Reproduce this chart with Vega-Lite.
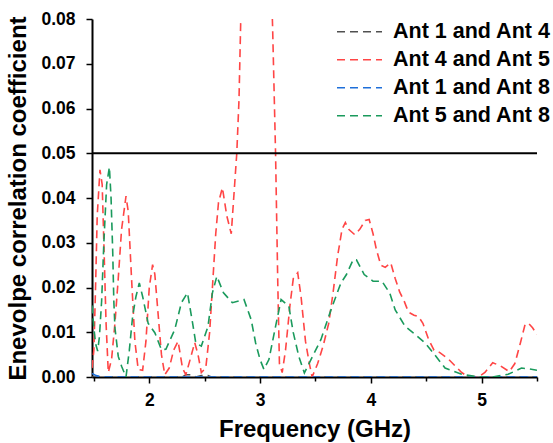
{
  "$schema": "https://vega.github.io/schema/vega-lite/v6.json",
  "width": 445,
  "height": 358,
  "autosize": {"type": "none"},
  "padding": {"left": 92, "top": 19, "right": 16, "bottom": 66},
  "background": "white",
  "config": {
    "view": {"stroke": null},
    "font": "Liberation Sans",
    "axis": {
      "grid": false,
      "domainColor": "black",
      "domainWidth": 2,
      "tickColor": "black",
      "tickWidth": 1.5,
      "labelFont": "Liberation Sans",
      "labelFontWeight": "bold",
      "labelFontSize": 17.5,
      "labelColor": "black",
      "titleFont": "Liberation Sans",
      "titleFontWeight": "bold",
      "titleFontSize": 24,
      "titleColor": "black"
    }
  },
  "datasets": {
    "curves": [
      {"f": 1.483, "v": 0, "s": "Ant 1 and Ant 4"},
      {"f": 2.0, "v": 0, "s": "Ant 1 and Ant 4"},
      {"f": 2.30, "v": 0, "s": "Ant 1 and Ant 4"},
      {"f": 2.33, "v": 0.0005, "s": "Ant 1 and Ant 4"},
      {"f": 2.38, "v": 0.0005, "s": "Ant 1 and Ant 4"},
      {"f": 2.42, "v": 0, "s": "Ant 1 and Ant 4"},
      {"f": 2.47, "v": 0.0003, "s": "Ant 1 and Ant 4"},
      {"f": 2.53, "v": 0.0003, "s": "Ant 1 and Ant 4"},
      {"f": 2.56, "v": 0, "s": "Ant 1 and Ant 4"},
      {"f": 5.5, "v": 0, "s": "Ant 1 and Ant 4"},

      {"f": 1.483, "v": 0.002, "s": "Ant 4 and Ant 5"},
      {"f": 1.50, "v": 0.006, "s": "Ant 4 and Ant 5"},
      {"f": 1.515, "v": 0.02, "s": "Ant 4 and Ant 5"},
      {"f": 1.53, "v": 0.036, "s": "Ant 4 and Ant 5"},
      {"f": 1.555, "v": 0.0463, "s": "Ant 4 and Ant 5"},
      {"f": 1.575, "v": 0.043, "s": "Ant 4 and Ant 5"},
      {"f": 1.59, "v": 0.03, "s": "Ant 4 and Ant 5"},
      {"f": 1.61, "v": 0.012, "s": "Ant 4 and Ant 5"},
      {"f": 1.63, "v": 0.001, "s": "Ant 4 and Ant 5"},
      {"f": 1.66, "v": 0.004, "s": "Ant 4 and Ant 5"},
      {"f": 1.69, "v": 0.012, "s": "Ant 4 and Ant 5"},
      {"f": 1.72, "v": 0.022, "s": "Ant 4 and Ant 5"},
      {"f": 1.75, "v": 0.033, "s": "Ant 4 and Ant 5"},
      {"f": 1.79, "v": 0.0404, "s": "Ant 4 and Ant 5"},
      {"f": 1.81, "v": 0.037, "s": "Ant 4 and Ant 5"},
      {"f": 1.84, "v": 0.022, "s": "Ant 4 and Ant 5"},
      {"f": 1.87, "v": 0.008, "s": "Ant 4 and Ant 5"},
      {"f": 1.90, "v": 0.0017, "s": "Ant 4 and Ant 5"},
      {"f": 1.94, "v": 0.0015, "s": "Ant 4 and Ant 5"},
      {"f": 1.97, "v": 0.008, "s": "Ant 4 and Ant 5"},
      {"f": 2.00, "v": 0.02, "s": "Ant 4 and Ant 5"},
      {"f": 2.03, "v": 0.0251, "s": "Ant 4 and Ant 5"},
      {"f": 2.05, "v": 0.023, "s": "Ant 4 and Ant 5"},
      {"f": 2.08, "v": 0.014, "s": "Ant 4 and Ant 5"},
      {"f": 2.11, "v": 0.005, "s": "Ant 4 and Ant 5"},
      {"f": 2.14, "v": 0.0005, "s": "Ant 4 and Ant 5"},
      {"f": 2.18, "v": 0.002, "s": "Ant 4 and Ant 5"},
      {"f": 2.22, "v": 0.006, "s": "Ant 4 and Ant 5"},
      {"f": 2.26, "v": 0.008, "s": "Ant 4 and Ant 5"},
      {"f": 2.30, "v": 0.002, "s": "Ant 4 and Ant 5"},
      {"f": 2.33, "v": 0.0005, "s": "Ant 4 and Ant 5"},
      {"f": 2.37, "v": 0.004, "s": "Ant 4 and Ant 5"},
      {"f": 2.41, "v": 0.0077, "s": "Ant 4 and Ant 5"},
      {"f": 2.44, "v": 0.005, "s": "Ant 4 and Ant 5"},
      {"f": 2.47, "v": 0.001, "s": "Ant 4 and Ant 5"},
      {"f": 2.51, "v": 0.002, "s": "Ant 4 and Ant 5"},
      {"f": 2.545, "v": 0.01, "s": "Ant 4 and Ant 5"},
      {"f": 2.575, "v": 0.022, "s": "Ant 4 and Ant 5"},
      {"f": 2.60, "v": 0.032, "s": "Ant 4 and Ant 5"},
      {"f": 2.625, "v": 0.039, "s": "Ant 4 and Ant 5"},
      {"f": 2.66, "v": 0.0423, "s": "Ant 4 and Ant 5"},
      {"f": 2.70, "v": 0.036, "s": "Ant 4 and Ant 5"},
      {"f": 2.74, "v": 0.032, "s": "Ant 4 and Ant 5"},
      {"f": 2.765, "v": 0.041, "s": "Ant 4 and Ant 5"},
      {"f": 2.79, "v": 0.05, "s": "Ant 4 and Ant 5"},
      {"f": 2.81, "v": 0.062, "s": "Ant 4 and Ant 5"},
      {"f": 2.826, "v": 0.08, "s": "Ant 4 and Ant 5"},
      {"f": 2.86, "v": 0.105, "s": "Ant 4 and Ant 5"},
      {"f": 2.97, "v": 0.125, "s": "Ant 4 and Ant 5"},
      {"f": 3.08, "v": 0.105, "s": "Ant 4 and Ant 5"},
      {"f": 3.113, "v": 0.0785, "s": "Ant 4 and Ant 5"},
      {"f": 3.14, "v": 0.05, "s": "Ant 4 and Ant 5"},
      {"f": 3.16, "v": 0.021, "s": "Ant 4 and Ant 5"},
      {"f": 3.175, "v": 0.003, "s": "Ant 4 and Ant 5"},
      {"f": 3.20, "v": 0.001, "s": "Ant 4 and Ant 5"},
      {"f": 3.23, "v": 0.006, "s": "Ant 4 and Ant 5"},
      {"f": 3.27, "v": 0.016, "s": "Ant 4 and Ant 5"},
      {"f": 3.30, "v": 0.022, "s": "Ant 4 and Ant 5"},
      {"f": 3.34, "v": 0.0233, "s": "Ant 4 and Ant 5"},
      {"f": 3.37, "v": 0.018, "s": "Ant 4 and Ant 5"},
      {"f": 3.41, "v": 0.008, "s": "Ant 4 and Ant 5"},
      {"f": 3.445, "v": 0.003, "s": "Ant 4 and Ant 5"},
      {"f": 3.47, "v": 0.0, "s": "Ant 4 and Ant 5"},
      {"f": 3.52, "v": 0.003, "s": "Ant 4 and Ant 5"},
      {"f": 3.57, "v": 0.007, "s": "Ant 4 and Ant 5"},
      {"f": 3.62, "v": 0.012, "s": "Ant 4 and Ant 5"},
      {"f": 3.66, "v": 0.019, "s": "Ant 4 and Ant 5"},
      {"f": 3.70, "v": 0.027, "s": "Ant 4 and Ant 5"},
      {"f": 3.74, "v": 0.033, "s": "Ant 4 and Ant 5"},
      {"f": 3.77, "v": 0.0345, "s": "Ant 4 and Ant 5"},
      {"f": 3.80, "v": 0.033, "s": "Ant 4 and Ant 5"},
      {"f": 3.855, "v": 0.0318, "s": "Ant 4 and Ant 5"},
      {"f": 3.90, "v": 0.033, "s": "Ant 4 and Ant 5"},
      {"f": 3.95, "v": 0.035, "s": "Ant 4 and Ant 5"},
      {"f": 3.985, "v": 0.0352, "s": "Ant 4 and Ant 5"},
      {"f": 4.02, "v": 0.032, "s": "Ant 4 and Ant 5"},
      {"f": 4.05, "v": 0.0285, "s": "Ant 4 and Ant 5"},
      {"f": 4.09, "v": 0.025, "s": "Ant 4 and Ant 5"},
      {"f": 4.13, "v": 0.0245, "s": "Ant 4 and Ant 5"},
      {"f": 4.18, "v": 0.0255, "s": "Ant 4 and Ant 5"},
      {"f": 4.22, "v": 0.022, "s": "Ant 4 and Ant 5"},
      {"f": 4.26, "v": 0.019, "s": "Ant 4 and Ant 5"},
      {"f": 4.30, "v": 0.017, "s": "Ant 4 and Ant 5"},
      {"f": 4.34, "v": 0.0145, "s": "Ant 4 and Ant 5"},
      {"f": 4.39, "v": 0.0138, "s": "Ant 4 and Ant 5"},
      {"f": 4.43, "v": 0.0135, "s": "Ant 4 and Ant 5"},
      {"f": 4.47, "v": 0.012, "s": "Ant 4 and Ant 5"},
      {"f": 4.52, "v": 0.0085, "s": "Ant 4 and Ant 5"},
      {"f": 4.57, "v": 0.006, "s": "Ant 4 and Ant 5"},
      {"f": 4.62, "v": 0.0055, "s": "Ant 4 and Ant 5"},
      {"f": 4.70, "v": 0.004, "s": "Ant 4 and Ant 5"},
      {"f": 4.76, "v": 0.0025, "s": "Ant 4 and Ant 5"},
      {"f": 4.82, "v": 0.001, "s": "Ant 4 and Ant 5"},
      {"f": 4.87, "v": 0.0002, "s": "Ant 4 and Ant 5"},
      {"f": 4.97, "v": 0.0, "s": "Ant 4 and Ant 5"},
      {"f": 5.03, "v": 0.001, "s": "Ant 4 and Ant 5"},
      {"f": 5.10, "v": 0.0032, "s": "Ant 4 and Ant 5"},
      {"f": 5.17, "v": 0.0025, "s": "Ant 4 and Ant 5"},
      {"f": 5.25, "v": 0.0012, "s": "Ant 4 and Ant 5"},
      {"f": 5.30, "v": 0.003, "s": "Ant 4 and Ant 5"},
      {"f": 5.35, "v": 0.0076, "s": "Ant 4 and Ant 5"},
      {"f": 5.39, "v": 0.0115, "s": "Ant 4 and Ant 5"},
      {"f": 5.42, "v": 0.0121, "s": "Ant 4 and Ant 5"},
      {"f": 5.46, "v": 0.011, "s": "Ant 4 and Ant 5"},
      {"f": 5.50, "v": 0.0095, "s": "Ant 4 and Ant 5"},

      {"f": 1.483, "v": 0.0008, "s": "Ant 1 and Ant 8"},
      {"f": 1.52, "v": 0.0003, "s": "Ant 1 and Ant 8"},
      {"f": 1.58, "v": 0, "s": "Ant 1 and Ant 8"},
      {"f": 5.5, "v": 0, "s": "Ant 1 and Ant 8"},

      {"f": 1.483, "v": 0.016, "s": "Ant 5 and Ant 8"},
      {"f": 1.50, "v": 0.011, "s": "Ant 5 and Ant 8"},
      {"f": 1.515, "v": 0.0075, "s": "Ant 5 and Ant 8"},
      {"f": 1.534, "v": 0.0058, "s": "Ant 5 and Ant 8"},
      {"f": 1.55, "v": 0.009, "s": "Ant 5 and Ant 8"},
      {"f": 1.57, "v": 0.017, "s": "Ant 5 and Ant 8"},
      {"f": 1.59, "v": 0.030, "s": "Ant 5 and Ant 8"},
      {"f": 1.615, "v": 0.043, "s": "Ant 5 and Ant 8"},
      {"f": 1.64, "v": 0.0469, "s": "Ant 5 and Ant 8"},
      {"f": 1.655, "v": 0.040, "s": "Ant 5 and Ant 8"},
      {"f": 1.67, "v": 0.028, "s": "Ant 5 and Ant 8"},
      {"f": 1.68, "v": 0.017, "s": "Ant 5 and Ant 8"},
      {"f": 1.69, "v": 0.011, "s": "Ant 5 and Ant 8"},
      {"f": 1.72, "v": 0.0046, "s": "Ant 5 and Ant 8"},
      {"f": 1.75, "v": 0.0024, "s": "Ant 5 and Ant 8"},
      {"f": 1.79, "v": 0.0, "s": "Ant 5 and Ant 8"},
      {"f": 1.82, "v": 0.006, "s": "Ant 5 and Ant 8"},
      {"f": 1.85, "v": 0.0136, "s": "Ant 5 and Ant 8"},
      {"f": 1.88, "v": 0.018, "s": "Ant 5 and Ant 8"},
      {"f": 1.91, "v": 0.021, "s": "Ant 5 and Ant 8"},
      {"f": 1.94, "v": 0.018, "s": "Ant 5 and Ant 8"},
      {"f": 1.99, "v": 0.012, "s": "Ant 5 and Ant 8"},
      {"f": 2.05, "v": 0.0099, "s": "Ant 5 and Ant 8"},
      {"f": 2.11, "v": 0.0061, "s": "Ant 5 and Ant 8"},
      {"f": 2.15, "v": 0.0062, "s": "Ant 5 and Ant 8"},
      {"f": 2.23, "v": 0.0106, "s": "Ant 5 and Ant 8"},
      {"f": 2.29, "v": 0.0166, "s": "Ant 5 and Ant 8"},
      {"f": 2.345, "v": 0.0188, "s": "Ant 5 and Ant 8"},
      {"f": 2.39, "v": 0.0122, "s": "Ant 5 and Ant 8"},
      {"f": 2.42, "v": 0.0076, "s": "Ant 5 and Ant 8"},
      {"f": 2.47, "v": 0.0069, "s": "Ant 5 and Ant 8"},
      {"f": 2.53, "v": 0.0113, "s": "Ant 5 and Ant 8"},
      {"f": 2.57, "v": 0.0188, "s": "Ant 5 and Ant 8"},
      {"f": 2.61, "v": 0.0225, "s": "Ant 5 and Ant 8"},
      {"f": 2.67, "v": 0.0188, "s": "Ant 5 and Ant 8"},
      {"f": 2.75, "v": 0.0166, "s": "Ant 5 and Ant 8"},
      {"f": 2.855, "v": 0.0173, "s": "Ant 5 and Ant 8"},
      {"f": 2.92, "v": 0.0128, "s": "Ant 5 and Ant 8"},
      {"f": 2.96, "v": 0.0076, "s": "Ant 5 and Ant 8"},
      {"f": 3.00, "v": 0.0039, "s": "Ant 5 and Ant 8"},
      {"f": 3.035, "v": 0.0017, "s": "Ant 5 and Ant 8"},
      {"f": 3.08, "v": 0.0039, "s": "Ant 5 and Ant 8"},
      {"f": 3.14, "v": 0.0113, "s": "Ant 5 and Ant 8"},
      {"f": 3.19, "v": 0.0173, "s": "Ant 5 and Ant 8"},
      {"f": 3.26, "v": 0.0158, "s": "Ant 5 and Ant 8"},
      {"f": 3.30, "v": 0.0099, "s": "Ant 5 and Ant 8"},
      {"f": 3.35, "v": 0.0046, "s": "Ant 5 and Ant 8"},
      {"f": 3.40, "v": 0.0009, "s": "Ant 5 and Ant 8"},
      {"f": 3.49, "v": 0.0054, "s": "Ant 5 and Ant 8"},
      {"f": 3.55, "v": 0.0084, "s": "Ant 5 and Ant 8"},
      {"f": 3.64, "v": 0.015, "s": "Ant 5 and Ant 8"},
      {"f": 3.73, "v": 0.021, "s": "Ant 5 and Ant 8"},
      {"f": 3.78, "v": 0.0229, "s": "Ant 5 and Ant 8"},
      {"f": 3.84, "v": 0.0262, "s": "Ant 5 and Ant 8"},
      {"f": 3.87, "v": 0.0262, "s": "Ant 5 and Ant 8"},
      {"f": 3.94, "v": 0.0229, "s": "Ant 5 and Ant 8"},
      {"f": 4.02, "v": 0.0214, "s": "Ant 5 and Ant 8"},
      {"f": 4.10, "v": 0.0214, "s": "Ant 5 and Ant 8"},
      {"f": 4.17, "v": 0.0188, "s": "Ant 5 and Ant 8"},
      {"f": 4.22, "v": 0.015, "s": "Ant 5 and Ant 8"},
      {"f": 4.31, "v": 0.0113, "s": "Ant 5 and Ant 8"},
      {"f": 4.38, "v": 0.0099, "s": "Ant 5 and Ant 8"},
      {"f": 4.49, "v": 0.0076, "s": "Ant 5 and Ant 8"},
      {"f": 4.56, "v": 0.0055, "s": "Ant 5 and Ant 8"},
      {"f": 4.67, "v": 0.002, "s": "Ant 5 and Ant 8"},
      {"f": 4.82, "v": 0.0006, "s": "Ant 5 and Ant 8"},
      {"f": 4.97, "v": 0.0, "s": "Ant 5 and Ant 8"},
      {"f": 5.10, "v": 0.0, "s": "Ant 5 and Ant 8"},
      {"f": 5.24, "v": 0.0006, "s": "Ant 5 and Ant 8"},
      {"f": 5.36, "v": 0.002, "s": "Ant 5 and Ant 8"},
      {"f": 5.43, "v": 0.0018, "s": "Ant 5 and Ant 8"},
      {"f": 5.50, "v": 0.0015, "s": "Ant 5 and Ant 8"}
    ]
  },
  "layer": [
    {
      "data": {"name": "curves"},
      "mark": {"type": "line", "clip": true, "strokeWidth": 1.6, "strokeDash": [8, 5]},
      "encoding": {
        "x": {
          "field": "f", "type": "quantitative",
          "scale": {"domain": [1.483, 5.5], "nice": false, "zero": false},
          "axis": {
            "values": [1.5, 2, 2.5, 3, 3.5, 4, 4.5, 5, 5.5],
            "labelExpr": "datum.value % 1 == 0 ? format(datum.value, 'd') : ''",
            "tickSize": {"condition": {"test": "datum.value % 1 != 0", "value": 4}, "value": 6},
            "labelPadding": 8,
            "title": "Frequency (GHz)", "titlePadding": 9
          }
        },
        "y": {
          "field": "v", "type": "quantitative",
          "scale": {"domain": [0, 0.08], "nice": false},
          "axis": {
            "values": [0, 0.005, 0.01, 0.015, 0.02, 0.025, 0.03, 0.035, 0.04, 0.045, 0.05, 0.055, 0.06, 0.065, 0.07, 0.075, 0.08],
            "labelExpr": "abs(round(datum.value*200) % 2) == 1 ? '' : format(datum.value, '.2f')",
            "tickSize": {"condition": {"test": "abs(round(datum.value*200) % 2) == 1", "value": 3}, "value": 6},
            "labelPadding": 11,
            "title": "Enevolpe correlation coefficient", "titlePadding": 10
          }
        },
        "color": {
          "field": "s", "type": "nominal",
          "scale": {
            "domain": ["Ant 1 and Ant 4", "Ant 4 and Ant 5", "Ant 1 and Ant 8", "Ant 5 and Ant 8"],
            "range": ["#505050", "#ff4545", "#1e6fd9", "#1a9a5c"]
          },
          "legend": {
            "orient": "none", "legendX": 244, "legendY": -1, "title": null,
            "symbolType": "stroke", "symbolStrokeWidth": 1.6, "symbolSize": 2025,
            "symbolDash": [8, 5], "clipHeight": 27.5,
            "labelFont": "Liberation Sans", "labelFontWeight": "bold", "labelFontSize": 21.5,
            "labelColor": "black", "labelOffset": 10, "rowPadding": 0, "labelLimit": 300
          }
        }
      }
    },
    {
      "data": {"values": [{"v": 0.05}]},
      "mark": {"type": "rule", "color": "black", "strokeWidth": 2},
      "encoding": {"y": {"field": "v", "type": "quantitative"}}
    }
  ]
}
